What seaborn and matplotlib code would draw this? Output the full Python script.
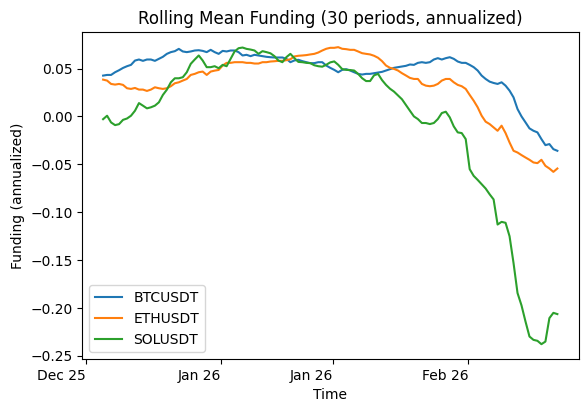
import pandas as pd
import matplotlib
matplotlib.use('Agg')
import matplotlib.pyplot as plt
import matplotlib.dates as mdates
import seaborn as sns

start = '2025-12-17 04:00'
symbols = ['BTCUSDT', 'ETHUSDT', 'SOLUSDT']

btc = [0.0427, 0.0434, 0.0434, 0.0462, 0.0483, 0.0507, 0.0525, 0.0539, 0.0584, 0.0595,
       0.0581, 0.0595, 0.0595, 0.0581, 0.0602, 0.0623, 0.0654, 0.0672, 0.0682, 0.0706,
       0.0679, 0.0672, 0.0679, 0.0689, 0.0692, 0.0685, 0.0672, 0.0696, 0.0672, 0.0654,
       0.0685, 0.0679, 0.0689, 0.0689, 0.0672, 0.0637, 0.0644, 0.0630, 0.0644, 0.0637,
       0.0630, 0.0623, 0.0619, 0.0616, 0.0616, 0.0616, 0.0602, 0.0567, 0.0585, 0.0592,
       0.0578, 0.0567, 0.0557, 0.0557, 0.0567, 0.0567, 0.0532, 0.0508, 0.0487, 0.0462,
       0.0487, 0.0494, 0.0480, 0.0462, 0.0445, 0.0438, 0.0445, 0.0445, 0.0452, 0.0459,
       0.0466, 0.0480, 0.0494, 0.0508, 0.0515, 0.0522, 0.0529, 0.0543,
       0.0539, 0.0560, 0.0567, 0.0560, 0.0567, 0.0595, 0.0609, 0.0595, 0.0609, 0.0619,
       0.0602, 0.0574, 0.0560, 0.0560, 0.0539, 0.0515, 0.0480, 0.0427, 0.0392, 0.0364,
       0.0350, 0.0340, 0.0357, 0.0322, 0.0270, 0.0200, 0.0078, 0.0001, -0.0061, -0.0124,
       -0.0149, -0.0166, -0.0236, -0.0299, -0.0288, -0.0341, -0.0358]

eth = [0.0385, 0.0375, 0.0340, 0.0333, 0.0340, 0.0330, 0.0295, 0.0288, 0.0298, 0.0281,
       0.0281, 0.0267, 0.0281, 0.0305, 0.0295, 0.0288, 0.0295, 0.0316, 0.0347, 0.0357,
       0.0375, 0.0392, 0.0434, 0.0445, 0.0462, 0.0469, 0.0434, 0.0469, 0.0479, 0.0486,
       0.0532, 0.0560, 0.0560, 0.0567, 0.0567, 0.0567, 0.0560, 0.0560, 0.0553, 0.0553,
       0.0567, 0.0567, 0.0574, 0.0577, 0.0581, 0.0581, 0.0588, 0.0598, 0.0627, 0.0634,
       0.0637, 0.0641, 0.0648, 0.0654, 0.0668, 0.0689, 0.0707, 0.0717, 0.0717, 0.0724,
       0.0707, 0.0703, 0.0696, 0.0696, 0.0679, 0.0661, 0.0654, 0.0648, 0.0634, 0.0613,
       0.0578, 0.0532, 0.0508, 0.0497, 0.0480, 0.0452, 0.0428, 0.0403,
       0.0392, 0.0392, 0.0340, 0.0322, 0.0316, 0.0322, 0.0340, 0.0375, 0.0392, 0.0392,
       0.0357, 0.0330, 0.0316, 0.0288, 0.0225, 0.0165, 0.0096, 0.0008, -0.0054, -0.0079,
       -0.0114, -0.0149, -0.0096, -0.0173, -0.0271, -0.0358, -0.0376, -0.0403, -0.0428, -0.0452,
       -0.0480, -0.0487, -0.0452, -0.0515, -0.0543, -0.0578, -0.0543]

sol = [-0.0028, 0.0008, -0.0062, -0.0090, -0.0080, -0.0035, -0.0021, 0.0008, 0.0060, 0.0140,
       0.0113, 0.0085, 0.0096, 0.0113, 0.0148, 0.0225, 0.0280, 0.0357, 0.0399, 0.0399,
       0.0410, 0.0462, 0.0550, 0.0595, 0.0637, 0.0584, 0.0515, 0.0515, 0.0525, 0.0504,
       0.0539, 0.0525, 0.0602, 0.0679, 0.0713, 0.0720, 0.0706, 0.0699, 0.0689, 0.0654,
       0.0682, 0.0672, 0.0660, 0.0630, 0.0584, 0.0567, 0.0620, 0.0654, 0.0610, 0.0570,
       0.0567, 0.0560, 0.0557, 0.0535, 0.0525, 0.0520, 0.0540, 0.0565, 0.0575, 0.0540,
       0.0495, 0.0487, 0.0485, 0.0480, 0.0445, 0.0400, 0.0370, 0.0370, 0.0430, 0.0445,
       0.0380, 0.0330, 0.0290, 0.0260, 0.0220, 0.0180, 0.0120, 0.0060,
       0.0001, -0.0027, -0.0068, -0.0068, -0.0079, -0.0068, -0.0027, 0.0036, 0.0050, -0.0009,
       -0.0103, -0.0166, -0.0173, -0.0236, -0.0550, -0.0620, -0.0662, -0.0707, -0.0752, -0.0812,
       -0.0866, -0.1128, -0.1100, -0.1110, -0.1250, -0.1530, -0.1843, -0.1972, -0.2140, -0.2297,
       -0.2332, -0.2342, -0.2377, -0.2350, -0.2105, -0.2050, -0.2063]

times = pd.date_range(start, periods=len(btc), freq='12h')
df = pd.concat([
    pd.DataFrame({'time': times, 'funding': vals, 'symbol': sym})
    for sym, vals in zip(symbols, [btc, eth, sol])
])

fig, ax = plt.subplots(figsize=(5.87, 4.12), dpi=100)
sns.lineplot(data=df, x='time', y='funding', hue='symbol', palette='tab10', ax=ax)
sns.move_legend(ax, 'lower left', title=None)

ax.set_xlim(pd.Timestamp('2025-12-14 13:00'), pd.Timestamp('2026-02-14 20:30'))
ax.xaxis.set_major_locator(mdates.DayLocator(bymonthday=[1, 15]))
ax.xaxis.set_major_formatter(mdates.DateFormatter('%b %y'))
plt.setp(ax.get_xticklabels(), ha='right')

ax.set_title('Rolling Mean Funding (30 periods, annualized)')
ax.set_xlabel('Time')
ax.set_ylabel('Funding (annualized)')

fig.subplots_adjust(left=0.140, right=0.986, top=0.9216, bottom=0.1286)
plt.savefig('out.png')
